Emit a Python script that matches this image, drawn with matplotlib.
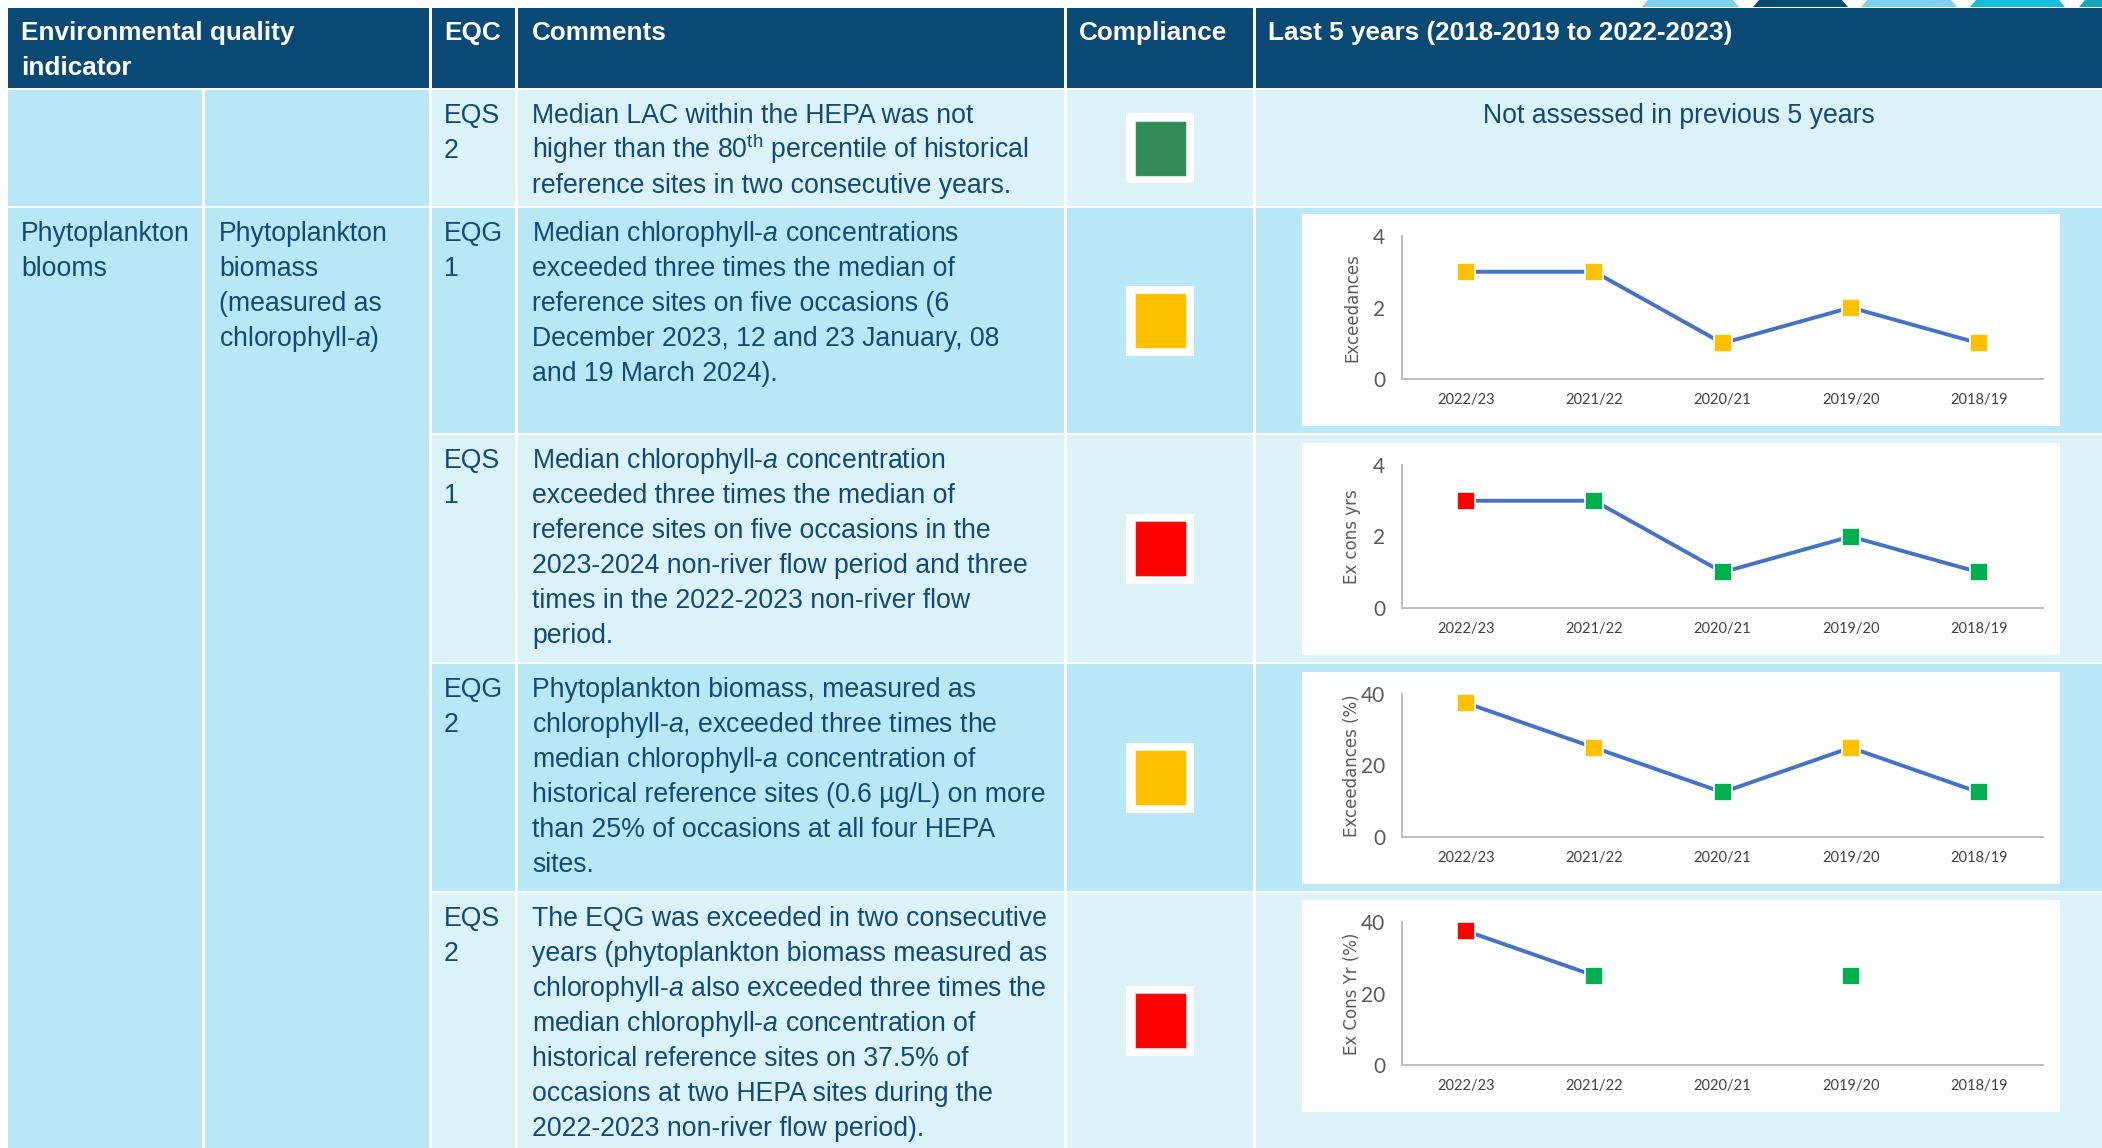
import numpy as np
import matplotlib
matplotlib.use("Agg")
import matplotlib.pyplot as plt
from matplotlib.patches import Rectangle, Polygon

plt.rcParams["font.family"] = ["Liberation Sans", "DejaVu Sans"]
plt.rcParams["mathtext.fontset"] = "custom"
plt.rcParams["mathtext.rm"] = "Liberation Sans"
plt.rcParams["mathtext.it"] = "Liberation Sans:italic"
plt.rcParams["mathtext.bf"] = "Liberation Sans:bold"

# ==============================================================
# DATA
# ==============================================================

header_labels = ["Environmental quality\nindicator", "EQC", "Comments", "Compliance",
                 "Last 5 years (2018-2019 to 2022-2023)"]

indicator = ["Phytoplankton", "blooms"]
sub_indicator = ["Phytoplankton", "biomass", "(measured as", r"chlorophyll-$\mathit{a}$)"]

eqc_labels = [["EQS", "2"], ["EQG", "1"], ["EQS", "1"], ["EQG", "2"], ["EQS", "2"]]

comments = [
    ["Median LAC within the HEPA was not",
     r"higher than the 80$^{\mathrm{th}}$ percentile of historical",
     "reference sites in two consecutive years."],
    [r"Median chlorophyll-$\mathit{a}$ concentrations",
     "exceeded three times the median of",
     "reference sites on five occasions (6",
     "December 2023, 12 and 23 January, 08",
     "and 19 March 2024)."],
    [r"Median chlorophyll-$\mathit{a}$ concentration",
     "exceeded three times the median of",
     "reference sites on five occasions in the",
     "2023-2024 non-river flow period and three",
     "times in the 2022-2023 non-river flow",
     "period."],
    ["Phytoplankton biomass, measured as",
     r"chlorophyll-$\mathit{a}$, exceeded three times the",
     r"median chlorophyll-$\mathit{a}$ concentration of",
     "historical reference sites (0.6 µg/L) on more",
     "than 25% of occasions at all four HEPA",
     "sites."],
    ["The EQG was exceeded in two consecutive",
     "years (phytoplankton biomass measured as",
     r"chlorophyll-$\mathit{a}$ also exceeded three times the",
     r"median chlorophyll-$\mathit{a}$ concentration of",
     "historical reference sites on 37.5% of",
     "occasions at two HEPA sites during the",
     "2022-2023 non-river flow period)."],
]

compliance = ["G", "A", "R", "A", "R"]
not_assessed = "Not assessed in previous 5 years"

years = ["2022/23", "2021/22", "2020/21", "2019/20", "2018/19"]

eqg1_exceed = [3, 3, 1, 2, 1]
eqg1_status = ["A", "A", "A", "A", "A"]

eqs1_cons = [3, 3, 1, 2, 1]
eqs1_status = ["R", "G", "G", "G", "G"]

eqg2_pct = [37.5, 25, 12.5, 25, 12.5]
eqg2_status = ["A", "A", "G", "A", "G"]

eqs2_pct = [37.5, 25, np.nan, 25, np.nan]
eqs2_status = ["R", "G", None, "G", None]

chart_values = [eqg1_exceed, eqs1_cons, eqg2_pct, eqs2_pct]
chart_status = [eqg1_status, eqs1_status, eqg2_status, eqs2_status]
chart_ylabels = ["Exceedances", "Ex cons yrs", "Exceedances (%)", "Ex Cons Yr (%)"]
chart_ymax = [4, 4, 40, 40]

# ==============================================================
# STYLE / LAYOUT
# ==============================================================

NAVY = "#0B4A75"
DARK = "#B8E7F5"
LIGHT = "#DBF2F9"
TXT = "#114A77"
BOX_COLORS = {"G": "#318C57", "A": "#FFC000", "R": "#FF0000"}
MARK_COLORS = {"G": "#00B050", "A": "#FFC000", "R": "#FF0000"}
LINE_BLUE = "#4472C4"

W, H = 2102, 1148
cols = [(8, 202), (205, 429), (432, 515), (518, 1064), (1067, 1253), (1256, 2102)]
header_y = (8, 88)
rows = [(90, 206), (208, 433), (435, 662), (664, 891), (893, 1148)]
row_shade = [LIGHT, DARK, LIGHT, DARK, LIGHT]

FS = 19.2
LINE = 35

fig = plt.figure(figsize=(W / 100, H / 100), dpi=100)
fig.patch.set_facecolor("white")
base = fig.add_axes([0, 0, 1, 1])
base.set_xlim(0, W)
base.set_ylim(H, 0)
base.axis("off")


def cell(x0, x1, y0, y1, color):
    base.add_patch(Rectangle((x0, y0), x1 - x0, y1 - y0, facecolor=color,
                             edgecolor="none", zorder=1))


def lines_at(x, y0, lines):
    for i, s in enumerate(lines):
        base.text(x, y0 + i * LINE, s, fontsize=FS, color=TXT,
                  va="baseline", ha="left", zorder=5)


# decorative strip top right
deco = [(1642, 1739, "#7DCFEA"), (1753, 1848, NAVY), (1861, 1957, "#7DCFEA"),
        (1970, 2065, "#18BCDD"), (2079, 2130, "#12A6B8")]
for x0, x1, c in deco:
    base.add_patch(Polygon([(x0 + 6, 0), (x1 - 6, 0), (x1, 7), (x0, 7)],
                           closed=True, facecolor=c, edgecolor="none", zorder=1))

# header
cell(cols[0][0], cols[1][1], *header_y, NAVY)
for c in cols[2:]:
    cell(c[0], c[1], *header_y, NAVY)
hx = [21, 444, 532, 1079, 1268]
for x, lab in zip(hx, header_labels):
    for i, s in enumerate(lab.split("\n")):
        base.text(x, 40 + i * LINE, s, fontsize=18.8, fontweight="bold",
                  color="white", va="baseline", ha="left", zorder=5)

# body cells
cell(cols[0][0], cols[0][1], *rows[0], DARK)
cell(cols[1][0], cols[1][1], *rows[0], DARK)
cell(cols[0][0], cols[0][1], rows[1][0], rows[-1][1], DARK)
cell(cols[1][0], cols[1][1], rows[1][0], rows[-1][1], DARK)
for r, shade in zip(rows, row_shade):
    for c in cols[2:]:
        cell(c[0], c[1], r[0], r[1], shade)

# indicator texts
lines_at(21, rows[1][0] + 33, indicator)
lines_at(219, rows[1][0] + 33, sub_indicator)

# rows
for i, r in enumerate(rows):
    y0 = r[0] + 33
    lines_at(444, y0, eqc_labels[i])
    lines_at(532, y0, comments[i])
    cy = (r[0] + r[1]) / 2
    cx = (cols[4][0] + cols[4][1]) / 2
    base.add_patch(Rectangle((cx - 34, cy - 35), 68, 70, facecolor="white",
                             edgecolor="none", zorder=3))
    base.add_patch(Rectangle((cx - 25.5, cy - 27.5), 51, 55,
                             facecolor=BOX_COLORS[compliance[i]],
                             edgecolor="#FFFFFF80", linewidth=0.8, zorder=4))

base.text((cols[5][0] + cols[5][1]) / 2, rows[0][0] + 33, not_assessed,
          fontsize=FS, color=TXT, va="baseline", ha="center", zorder=5)

# ==============================================================
# CHARTS
# ==============================================================

panel_tops = [214, 443, 672, 900]
xs = np.arange(len(years))
for k, top in enumerate(panel_tops):
    base.add_patch(Rectangle((1302, top), 758, 212, facecolor="white",
                             edgecolor="none", zorder=2))
    ax_l, ax_r = 1402, 2043
    ax_t, ax_b = top + 22, top + 165
    ax = fig.add_axes([ax_l / W, 1 - ax_b / H, (ax_r - ax_l) / W, (ax_b - ax_t) / H])
    ax.set_facecolor("none")
    vals = np.array(chart_values[k], dtype=float)
    ax.plot(xs, vals, color=LINE_BLUE, lw=2.8, zorder=2, solid_capstyle="butt")
    for x, v, st in zip(xs, vals, chart_status[k]):
        if st is None or np.isnan(v):
            continue
        ax.scatter([x], [v], marker="s", s=180, color=MARK_COLORS[st],
                   edgecolors="white", linewidths=1.2, zorder=3, clip_on=False)
    ax.set_xlim(-0.5, 4.5)
    ax.set_ylim(0, chart_ymax[k])
    ax.set_yticks([0, chart_ymax[k] / 2, chart_ymax[k]])
    ax.set_yticklabels([f"{int(t)}" for t in ax.get_yticks()],
                       fontfamily="Lato", fontsize=15, color="#595959")
    ax.set_xticks(xs)
    ax.set_xticklabels(years, fontfamily="Lato", fontsize=10.5, color="#404040")
    ax.tick_params(length=0)
    ax.tick_params(axis="y", pad=12)
    ax.tick_params(axis="x", pad=10)
    for s in ["top", "right"]:
        ax.spines[s].set_visible(False)
    for s in ["left", "bottom"]:
        ax.spines[s].set_color("#BFBFBF")
        ax.spines[s].set_linewidth(1.5)
    ax.text(-0.078, 0.5, chart_ylabels[k], transform=ax.transAxes, rotation=90,
            ha="center", va="center", fontfamily="DejaVu Sans", fontsize=12,
            color="#595959")

fig.savefig("out.png", dpi=100, facecolor="white")
